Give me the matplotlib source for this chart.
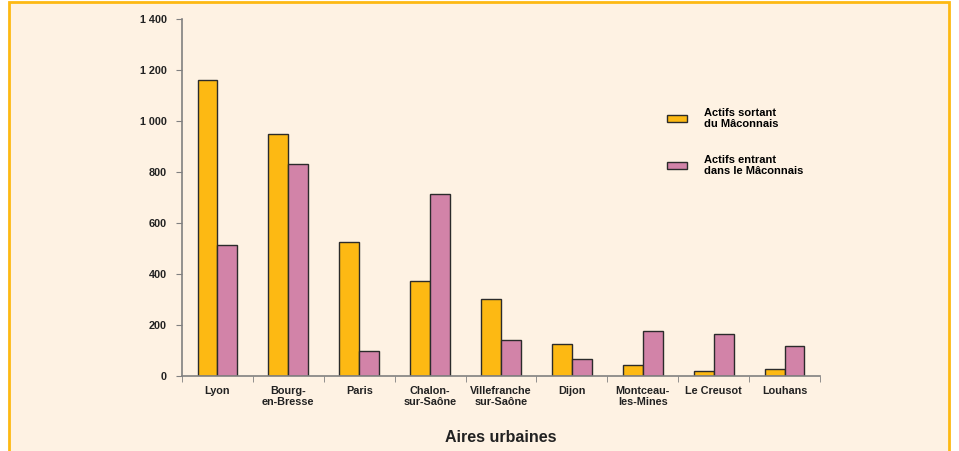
import numpy as np
import matplotlib.pyplot as plt
from matplotlib.patches import Rectangle

plt.rcParams['font.family'] = ['Liberation Sans', 'DejaVu Sans']
plt.rcParams['font.weight'] = 'bold'

villes = ['Lyon', 'Bourg-\nen-Bresse', 'Paris', 'Chalon-\nsur-Saône', 'Villefranche\nsur-Saône',
          'Dijon', 'Montceau-\nles-Mines', 'Le Creusot', 'Louhans']
sortant = [1160, 950, 525, 373, 302, 125, 43, 20, 27]
entrant = [515, 830, 98, 714, 141, 67, 176, 165, 118]
yticks = [0, 200, 400, 600, 800, 1000, 1200, 1400]
ytick_labels = ['0', '200', '400', '600', '800', '1 000', '1 200', '1 400']

orange = '#FDB913'
rose = '#D283A8'
fond = '#FEF2E3'

fig = plt.figure(figsize=(9.59, 4.51), dpi=100, facecolor='white')
# cadre
fig.patches.append(Rectangle((9/959, -0.05), 940/959, 1.05 - 1.5/451, transform=fig.transFigure,
                             facecolor=fond, edgecolor=orange, linewidth=2, zorder=-1))

ax = fig.add_axes([182/959, 75/451, 638/959, 357/451])
ax.set_facecolor('none')

x = np.arange(len(villes))
w = 0.28
ax.bar(x - w/2, sortant, w, color=orange, edgecolor='#2b2b2b', linewidth=1,
       label='Actifs sortant\ndu Mâconnais')
ax.bar(x + w/2, entrant, w, color=rose, edgecolor='#2b2b2b', linewidth=1,
       label='Actifs entrant\ndans le Mâconnais')

ax.set_xlim(-0.5, len(villes) - 0.5)
ax.set_ylim(0, 1400)
ax.set_yticks(yticks)
ax.set_yticklabels(ytick_labels, fontsize=7.8, fontweight='bold', color='#222222')
ax.set_xticks(x)
ax.set_xticklabels(villes, fontsize=7.8, fontweight='bold', color='#222222', linespacing=1.1)
ax.set_xticks(np.arange(-0.5, len(villes)), minor=True)
ax.tick_params(axis='x', which='major', length=0, pad=7)
ax.tick_params(axis='x', which='minor', length=4, color='#808080', direction='out')
ax.tick_params(axis='y', length=4, color='#808080', pad=7)

for s in ['top', 'right']:
    ax.spines[s].set_visible(False)
for s in ['left', 'bottom']:
    ax.spines[s].set_color('#808080')
    ax.spines[s].set_linewidth(1.2)

ax.set_xlabel('Aires urbaines', fontsize=11.5, fontweight='bold', color='#222222', labelpad=17)

ax.legend(loc='upper left', bbox_to_anchor=(0.745, 0.78), frameon=False, fontsize=8,
          handlelength=1.8, handleheight=0.6, handletextpad=1.5, labelspacing=2.3)

fig.savefig('out.png', dpi=100, facecolor='white')
